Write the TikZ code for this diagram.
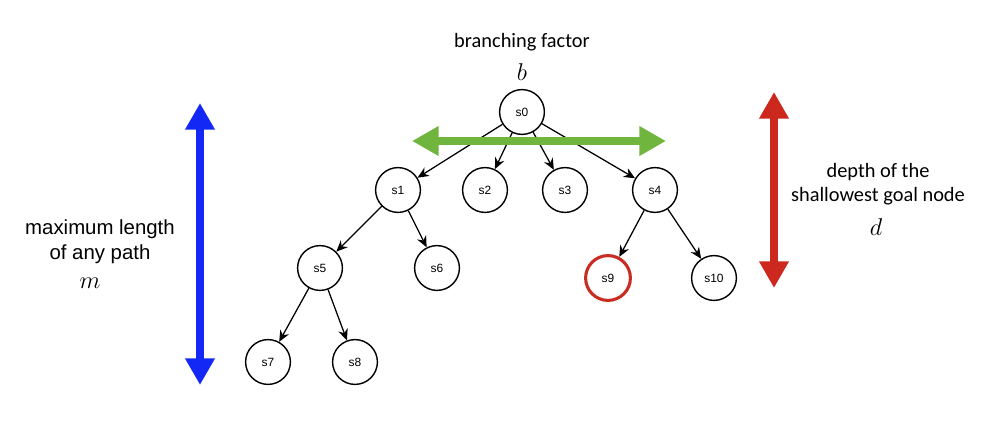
\documentclass[tikz,border=0pt]{standalone}
\usepackage{fontspec}
\setmainfont{Carlito}
\newfontfamily\nodefont{Liberation Sans}
\usetikzlibrary{arrows.meta,positioning}

\begin{document}
\begin{tikzpicture}[x=0.025cm,y=-0.025cm,
roundnode/.style={circle, draw=black, line width=1pt, minimum size=1.12cm, inner sep=0pt, font=\nodefont\fontsize{8.5}{9}\selectfont},
goalnode/.style={roundnode, draw={rgb,255:red,200;green,45;blue,35}, line width=2.2pt},
edge/.style={line width=0.9pt, -{Stealth[length=8pt,width=7pt]}},
bigarrow/.style={line width=6pt, {Triangle[length=19pt,width=20pt]}-{Triangle[length=19pt,width=20pt]}},
lbl/.style={font=\fontsize{14.5}{17}\selectfont, align=center},
mlbl/.style={font=\fontsize{17}{17}\selectfont},
]
\useasboundingbox (0,0) rectangle (984,440);
%Nodes
\node[roundnode](s0) at (522,112){s0};

\node[roundnode](s1) at (398,190){s1};
\node[roundnode](s2) at (485,190){s2};
\node[roundnode](s3) at (565,190){s3};
\node[roundnode](s4) at (655,190){s4};

\node[roundnode](s5) at (320,268){s5};
\node[roundnode](s6) at (437,268){s6};
\node[goalnode](s9) at (608,278){s9};
\node[roundnode](s10) at (714,278){s10};

\node[roundnode](s7) at (268,362){s7};
\node[roundnode](s8) at (355,362){s8};

%Labels
\node[lbl](bf) at (522,42){branching factor};
\node[mlbl](b) at (522,72){$b$};

\node[lbl,font=\nodefont\fontsize{14.5}{18}\selectfont](ml) at (100,242){maximum length\\of any path};
\node[mlbl](m) at (90,283){$m$};

\node[lbl](dp) at (878,184){depth of the\\shallowest goal node};
\node[mlbl](d) at (876,227){$d$};

\coordinate(gl) at (412,141);
\coordinate(gr) at (666,141);
\coordinate(bt) at (200,103);
\coordinate(bb) at (200,385);
\coordinate(rt) at (774,92);
\coordinate(rb) at (774,288);

%Lines
\draw[edge] (s0) -- (s1);
\draw[edge] (s0) -- (s2);
\draw[edge] (s0) -- (s3);
\draw[edge] (s0) -- (s4);
\draw[edge] (s1) -- (s5);
\draw[edge] (s1) -- (s6);
\draw[edge] (s4) -- (s9);
\draw[edge] (s4) -- (s10);
\draw[edge] (s5) -- (s7);
\draw[edge] (s5) -- (s8);

\draw[bigarrow, color={rgb,255:red,112;green,182;blue,62}] (gl) -- (gr);
\draw[bigarrow, color={rgb,255:red,20;green,40;blue,245}] (bt) -- (bb);
\draw[bigarrow, color={rgb,255:red,205;green,40;blue,30}] (rt) -- (rb);
\end{tikzpicture}
\end{document}
